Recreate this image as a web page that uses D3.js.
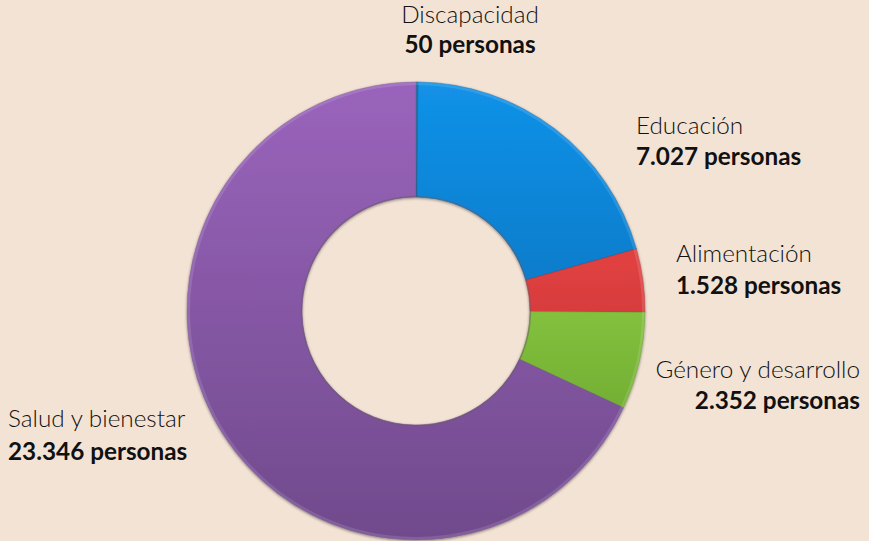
<!DOCTYPE html>
<html><head><meta charset="utf-8">
<script src="https://cdn.jsdelivr.net/npm/d3@7/dist/d3.min.js"></script>
<style>
html,body{margin:0;padding:0;background:#f3e3d5;}
svg{display:block;}
text{font-family:Lato,"Open Sans",sans-serif;fill:#111;}
</style></head>
<body>
<script>
const categories = ["Discapacidad","Educación","Alimentación","Género y desarrollo","Salud y bienestar"];
const values = [50, 7027, 1528, 2352, 23346];
const valueLabels = ["50 personas","7.027 personas","1.528 personas","2.352 personas","23.346 personas"];
const colorsTop = ["#2a7aa8","#1292e8","#ff5050","#a8ec56","#9a64bc"];
const colorsBottom = ["#1a5a80","#0060a6","#b02828","#5e9626","#704a8c"];

const W = 869, H = 541;
const cx = 416, cy = 311, rOuter = 229, rInner = 114;

const svg = d3.select("body").append("svg").attr("width", W).attr("height", H);
svg.append("rect").attr("width", W).attr("height", H).attr("fill", "#f3e3d5");

const defs = svg.append("defs");
categories.forEach((c, i) => {
  const g = defs.append("linearGradient").attr("id", "g" + i)
    .attr("gradientUnits", "userSpaceOnUse")
    .attr("x1", 0).attr("y1", -rOuter).attr("x2", 0).attr("y2", rOuter);
  g.append("stop").attr("offset", "0%").attr("stop-color", colorsTop[i]);
  g.append("stop").attr("offset", "100%").attr("stop-color", colorsBottom[i]);
});
const sh = defs.append("filter").attr("id", "sh").attr("x", "-10%").attr("y", "-10%").attr("width", "120%").attr("height", "120%");
sh.append("feGaussianBlur").attr("in", "SourceAlpha").attr("stdDeviation", 1.5).attr("result", "b");
sh.append("feOffset").attr("in", "b").attr("dx", 0).attr("dy", 1).attr("result", "o");
sh.append("feComponentTransfer").attr("in", "o").attr("result", "o2")
  .append("feFuncA").attr("type", "linear").attr("slope", 0.45);
const m = sh.append("feMerge");
m.append("feMergeNode").attr("in", "o2");
m.append("feMergeNode").attr("in", "SourceGraphic");

const pie = d3.pie().sort(null).value(d => d)(values);
const arc = d3.arc().innerRadius(rInner).outerRadius(rOuter);
const arcHi = d3.arc().innerRadius(rOuter - 3).outerRadius(rOuter);

const gp = svg.append("g").attr("transform", `translate(${cx},${cy})`).attr("filter", "url(#sh)");
gp.selectAll("path.s").data(pie).join("path").attr("class", "s")
  .attr("d", arc).attr("fill", (d, i) => `url(#g${i})`)
  .attr("stroke", (d, i) => colorsBottom[i]).attr("stroke-opacity", 0.5).attr("stroke-width", 0.8);
gp.selectAll("path.h").data(pie).join("path").attr("class", "h")
  .attr("d", arcHi).attr("fill", "#fff").attr("fill-opacity", 0.12);

// inner hole shadow ring
svg.append("circle").attr("cx", cx).attr("cy", cy).attr("r", rInner + 0.5)
  .attr("fill", "none").attr("stroke", "#6b5a6a").attr("stroke-opacity", 0.45).attr("stroke-width", 1.5);

const labels = [
  {x: 470, y1: 23, y2: 53, anchor: "middle"},
  {x: 636, y1: 134, y2: 165, anchor: "start"},
  {x: 676, y1: 262, y2: 294, anchor: "start"},
  {x: 860, y1: 378, y2: 409, anchor: "end"},
  {x: 8, y1: 427, y2: 460, anchor: "start"}
];
const gl = svg.append("g");
labels.forEach((l, i) => {
  gl.append("text").attr("x", l.x).attr("y", l.y1).attr("text-anchor", l.anchor)
    .attr("font-size", 24.3).attr("font-weight", 300).text(categories[i]);
  gl.append("text").attr("x", l.x).attr("y", l.y2).attr("text-anchor", l.anchor)
    .attr("font-size", 24.3).attr("font-weight", 700).text(valueLabels[i]);
});
</script>
</body></html>
